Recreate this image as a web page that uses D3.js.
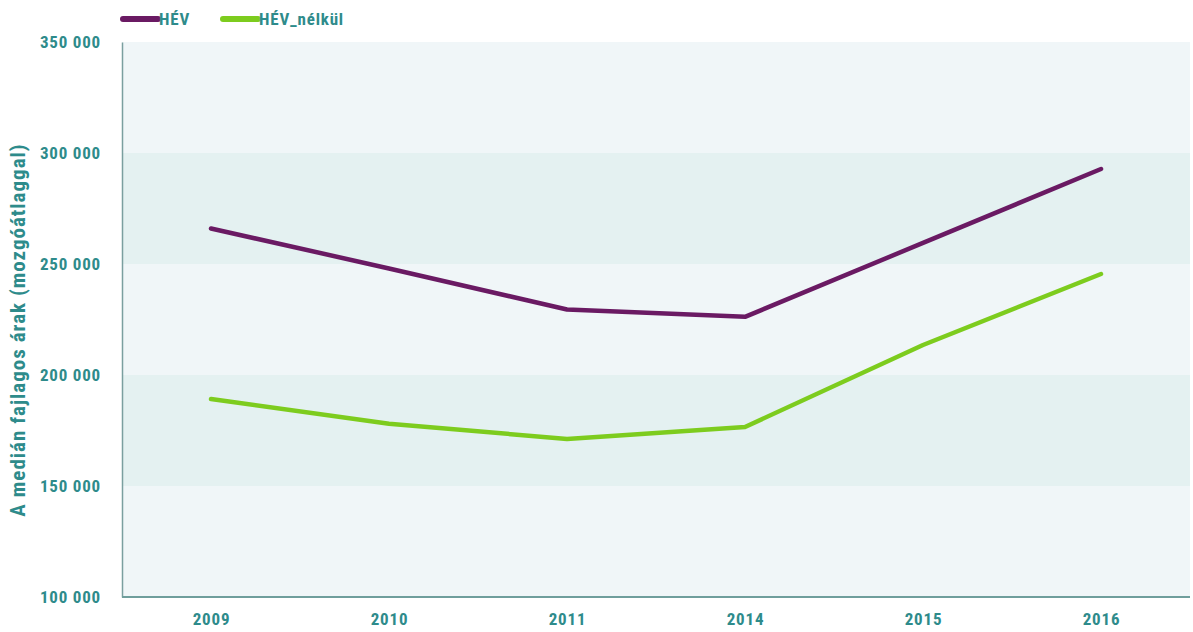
<!DOCTYPE html>
<meta charset="utf-8">
<head>
    <script src="https://d3js.org/d3.v7.min.js"></script>
    <style>
        body { margin: 0; background: #ffffff; }
        svg text {
            font-family: "Liberation Sans Narrow", "Roboto Condensed", "Open Sans", sans-serif;
            font-weight: bold;
            fill: #2e8b8b;
            letter-spacing: 0.8px;
        }
    </style>
</head>
<body>
<div class="viz"></div>
<script>
    // data
    var years = ["2009", "2010", "2011", "2014", "2015", "2016"];
    var hev = [266000, 248000, 229500, 226200, 259500, 292800];
    var hevNelkul = [189200, 178000, 171200, 176600, 213500, 245500];
    var seriesNames = ["HÉV", "HÉV_nélkül"];
    var seriesColors = ["#6a1a63", "#7dcc1e"];
    var yTicks = [100000, 150000, 200000, 250000, 300000, 350000];

    var width = 1193,
        height = 632;
    var margin = { top: 42, right: 3, bottom: 35, left: 122 };

    var svg = d3.select("div.viz").append("svg")
        .attr("width", width)
        .attr("height", height);

    var x = d3.scalePoint()
        .domain(years)
        .range([margin.left, width - margin.right])
        .padding(0.5);

    var y = d3.scaleLinear()
        .domain([100000, 350000])
        .range([height - margin.bottom, margin.top]);

    // alternating background bands
    var bands = d3.pairs(yTicks);
    svg.selectAll("rect.band")
        .data(bands)
        .enter().append("rect")
        .attr("class", "band")
        .attr("x", margin.left)
        .attr("width", width - margin.right - margin.left)
        .attr("y", function(d) { return y(d[1]); })
        .attr("height", function(d) { return y(d[0]) - y(d[1]); })
        .style("fill", function(d, i) { return i % 2 == 1 ? "#e4f1f1" : "#f0f6f8"; });

    // y axis
    var yAxis = svg.append("g")
        .attr("transform", "translate(" + margin.left + ",0)")
        .call(d3.axisLeft(y).tickValues(yTicks).tickSize(0).tickPadding(21)
            .tickFormat(function(d) { return d3.format(",")(d).replace(/,/g, " "); }));
    yAxis.select(".domain").style("stroke", "#7a9f9f").style("stroke-width", 1.5);
    yAxis.selectAll("text").style("font-size", "17px");

    // x axis
    var xAxis = svg.append("g")
        .attr("transform", "translate(0," + (height - margin.bottom) + ")")
        .call(d3.axisBottom(x).tickSize(0).tickPadding(16));
    xAxis.select(".domain").attr("d", "M" + margin.left + ",0H" + (width - margin.right))
        .style("stroke", "#6f9e9c").style("stroke-width", 2);
    xAxis.selectAll("text").style("font-size", "17px");

    // y axis title
    svg.append("text")
        .attr("transform", "translate(25,330) rotate(-90)")
        .attr("text-anchor", "middle")
        .style("font-size", "21px")
        .style("letter-spacing", "1px")
        .text("A medián fajlagos árak (mozgóátlaggal)");

    // lines
    var line = d3.line()
        .x(function(d, i) { return x(years[i]); })
        .y(function(d) { return y(d); });

    [hev, hevNelkul].forEach(function(s, k) {
        svg.append("path")
            .datum(s)
            .attr("d", line)
            .style("fill", "none")
            .style("stroke", seriesColors[k])
            .style("stroke-width", 4.5)
            .style("stroke-linejoin", "round")
            .style("stroke-linecap", "round");
    });

    // legend
    var legendX = [123, 223];
    seriesNames.forEach(function(n, k) {
        svg.append("line")
            .attr("x1", legendX[k]).attr("x2", legendX[k] + 35)
            .attr("y1", 19).attr("y2", 19)
            .style("stroke", seriesColors[k])
            .style("stroke-width", 6)
            .style("stroke-linecap", "round");
        svg.append("text")
            .attr("x", legendX[k] + 36)
            .attr("y", 25)
            .style("font-size", "17px")
            .text(n);
    });
</script>
</body>
